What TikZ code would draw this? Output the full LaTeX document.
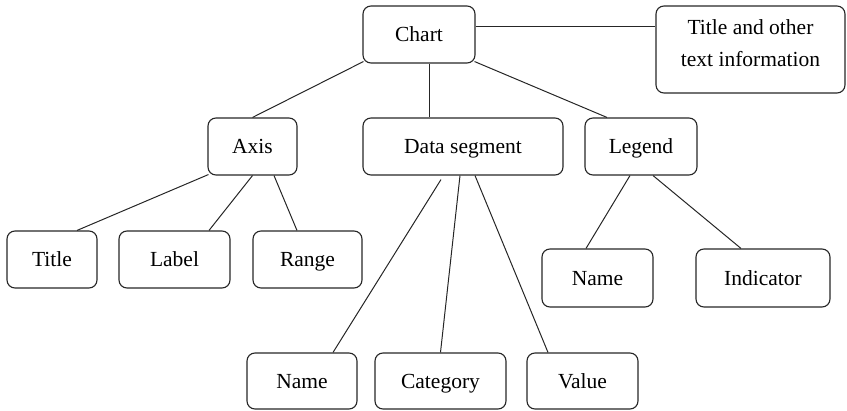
\documentclass[tikz,border=0pt]{standalone}
\usepackage{fontspec}
\setmainfont{Liberation Serif}
\begin{document}
\begin{tikzpicture}[x=1pt,y=1pt,
  box/.style={draw=black!85, line width=1.1pt, rounded corners=8pt, inner sep=0pt,
    align=center, font=\fontsize{21.5}{32}\selectfont, text=black},
  one/.style={box, text height=14.5pt, text depth=0pt},
  link/.style={draw=black!85, line width=1pt}]
\useasboundingbox (0,0) rectangle (847,-411);
\node[one, minimum width=112pt, minimum height=57pt] (chart) at (419,-34.5) {Chart};
\node[box, minimum width=189pt, minimum height=87pt, text depth=13pt] (info) at (750.5,-49.5) {Title and other\\text information};
\node[one, minimum width=89pt, minimum height=57pt] (axis) at (252.5,-146.5) {Axis};
\node[one, minimum width=200pt, minimum height=57pt] (data) at (463,-146.5) {Data segment};
\node[one, minimum width=112pt, minimum height=57pt] (legend) at (641,-146.5) {Legend};
\node[one, minimum width=90pt, minimum height=57pt] (title) at (52,-259.5) {Title};
\node[one, minimum width=111pt, minimum height=57pt] (label) at (174.5,-259.5) {Label};
\node[one, minimum width=109pt, minimum height=57pt] (range) at (307.5,-259.5) {Range};
\node[one, minimum width=111pt, minimum height=58pt] (lname) at (597.5,-278) {Name};
\node[one, minimum width=134pt, minimum height=58pt] (indicator) at (763,-278) {Indicator};
\node[one, minimum width=110pt, minimum height=56pt] (dname) at (302,-381) {Name};
\node[one, minimum width=131pt, minimum height=56pt] (category) at (440.5,-381) {Category};
\node[one, minimum width=111pt, minimum height=56pt] (value) at (582.5,-381) {Value};
% connectors
\draw[link] ([yshift=7.5pt]chart.east) coordinate (c1) -- (c1 -| info.west);
\draw[link] ([shift={(1pt,2pt)}]chart.south west) -- (axis.north);
\draw[link] ([xshift=10pt]chart.south) -- ([xshift=-34pt]data.north);
\draw[link] ([shift={(-1pt,2pt)}]chart.south east) -- ([xshift=-34pt]legend.north);
\draw[link] ([shift={(1pt,1pt)}]axis.south west) -- ([xshift=25pt]title.north);
\draw[link] (axis.south) -- ([xshift=34.5pt]label.north);
\draw[link] ([xshift=21.5pt]axis.south) -- ([xshift=-10.5pt]range.north);
\draw[link] ([shift={(-22pt,-4pt)}]data.south) -- ([xshift=31pt]dname.north);
\draw[link] ([xshift=-3pt]data.south) -- (category.north);
\draw[link] ([xshift=12pt]data.south) -- ([xshift=-34.5pt]value.north);
\draw[link] ([xshift=-11pt]legend.south) -- ([xshift=-11.5pt]lname.north);
\draw[link] ([xshift=12pt]legend.south) -- ([xshift=-22pt]indicator.north);
\end{tikzpicture}
\end{document}
